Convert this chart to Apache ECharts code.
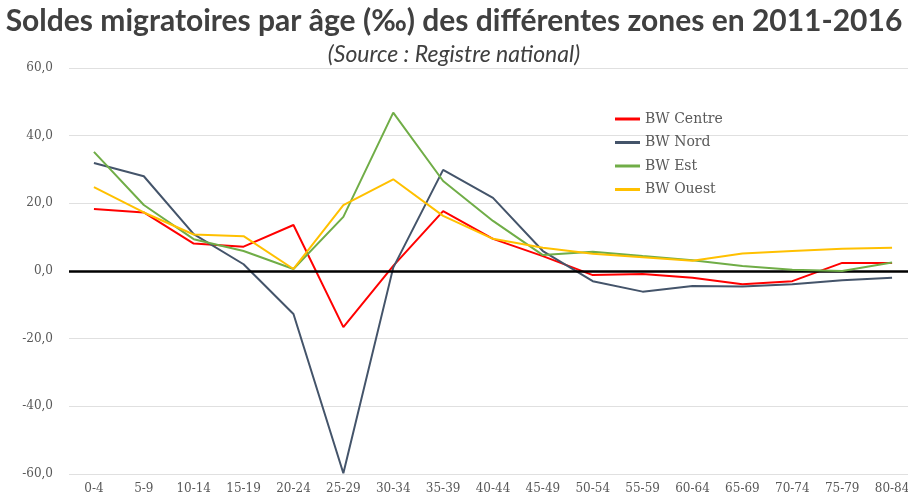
<!DOCTYPE html>
<html>
<head>
<meta charset="utf-8">
<script src="https://cdn.jsdelivr.net/npm/echarts@6/dist/echarts.min.js"></script>
<style>
  html, body { margin: 0; padding: 0; background: #fff; }
  #chart { width: 908px; height: 495px; }
</style>
</head>
<body>
<div id="chart"></div>
<script>
const ageGroups = ['0-4', '5-9', '10-14', '15-19', '20-24', '25-29', '30-34', '35-39', '40-44',
  '45-49', '50-54', '55-59', '60-64', '65-69', '70-74', '75-79', '80-84']

const centre = [18.3, 17.3, 8.1, 7.2, 13.6, -16.6, 1.5, 17.7, 9.5, 4.4, -1.2, -0.9, -2.0, -3.9, -3.0, 2.4, 2.4]
const nord   = [31.9, 28.0, 10.9, 2.0, -12.7, -59.8, 1.0, 29.9, 21.6, 5.9, -3.0, -6.1, -4.4, -4.6, -3.9, -2.7, -2.0]
const est    = [35.2, 19.5, 9.4, 5.9, 0.6, 16.0, 46.8, 26.6, 14.8, 4.7, 5.7, 4.4, 3.2, 1.5, 0.4, 0.0, 2.5]
const ouest  = [24.8, 17.3, 10.8, 10.3, 0.6, 19.5, 27.1, 16.3, 9.5, 6.9, 5.1, 4.1, 3.0, 5.2, 5.9, 6.6, 6.9]

const SERIES = [
  { name: 'BW Centre', data: centre, color: '#FF0000' },
  { name: 'BW Nord', data: nord, color: '#44546A' },
  { name: 'BW Est', data: est, color: '#70AD47' },
  { name: 'BW Ouest', data: ouest, color: '#FFC000' }
]

const chart = echarts.init(document.getElementById('chart'))

const series = SERIES.map((s, i) => ({
  name: s.name,
  type: 'line',
  data: s.data,
  symbol: 'none',
  lineStyle: { width: 2, color: s.color },
  itemStyle: { color: s.color },
  z: 3 + i,
  // ligne noire du zéro
  markLine: i === 0 ? {
    silent: true, symbol: 'none', label: { show: false },
    lineStyle: { color: '#000', width: 2.5, type: 'solid' },
    data: [{ yAxis: 0 }]
  } : undefined
}))

chart.setOption({
  animation: false,
  title: [
    {
      text: 'Soldes migratoires par âge (‰) des différentes zones en 2011-2016',
      left: 'center', top: 1,
      textStyle: { fontFamily: 'Lato', fontWeight: 'bold', fontSize: 30, color: '#404040' }
    },
    {
      text: '(Source : Registre national)',
      left: 'center', top: 38,
      textStyle: { fontFamily: 'Lato', fontStyle: 'italic', fontWeight: 'normal', fontSize: 23, color: '#404040' }
    }
  ],
  legend: {
    orient: 'vertical', left: 610, top: 107,
    itemWidth: 25, itemHeight: 3, itemGap: 9.5,
    icon: 'rect',
    textStyle: { fontFamily: 'DejaVu Serif', fontSize: 14, color: '#595959' },
    data: SERIES.map(s => s.name)
  },
  grid: { left: 69, right: -9, top: 68, bottom: 21, outerBoundsMode: 'none' },
  xAxis: {
    type: 'category', data: ageGroups,
    axisLine: { show: false, onZero: false },
    axisTick: { show: false },
    axisLabel: { interval: 0, margin: 9, fontFamily: 'DejaVu Serif', fontSize: 12, color: '#595959' }
  },
  yAxis: {
    type: 'value', min: -60, max: 60, interval: 20,
    axisLine: { show: false }, axisTick: { show: false },
    axisLabel: {
      margin: 16, fontFamily: 'DejaVu Serif', fontSize: 12, color: '#595959',
      formatter: v => v.toFixed(1).replace('.', ',')
    },
    splitLine: { lineStyle: { color: '#e0e0e0', width: 1 } }
  },
  series
})
</script>
</body>
</html>
